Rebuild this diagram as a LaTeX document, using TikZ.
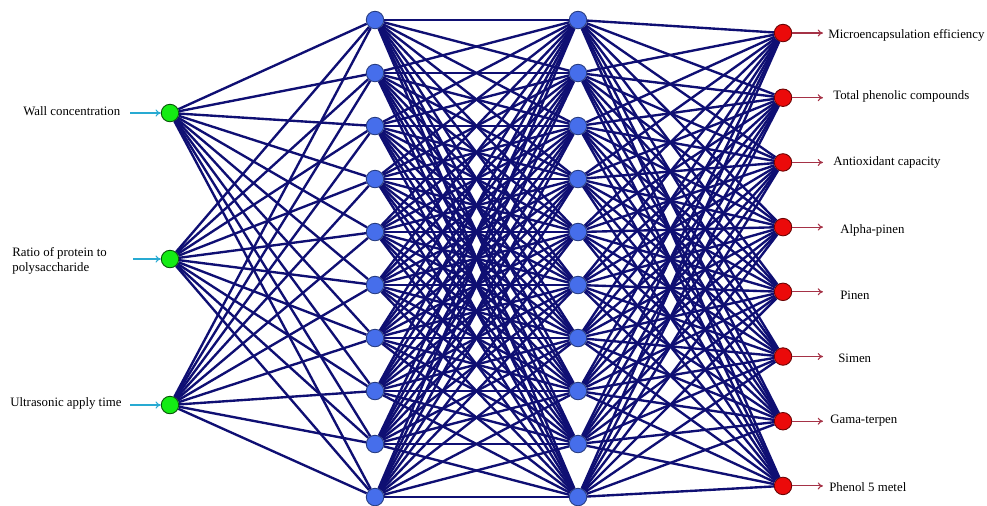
\documentclass[tikz,border=0pt]{standalone}
\usepackage{fontspec}
\setmainfont{Liberation Serif}
\usetikzlibrary{arrows.meta,backgrounds}

\definecolor{netblue}{RGB}{15,15,115}
\definecolor{hidblue}{RGB}{70,110,235}
\definecolor{ingreen}{RGB}{20,235,20}
\definecolor{outred}{RGB}{235,10,10}
\definecolor{incyan}{RGB}{40,170,210}
\definecolor{outarrow}{RGB}{165,50,70}

\begin{document}
\begin{tikzpicture}[
  x=0.02cm, y=-0.02cm,
  >={To[length=3pt,width=4pt]},
  neuron/.style={circle, line width=0.5pt, minimum size=0.35cm, inner sep=0pt},
  innode/.style={neuron, fill=ingreen, draw=ingreen!35!black},
  hidnode/.style={neuron, fill=hidblue, draw=hidblue!55!black},
  outnode/.style={neuron, fill=outred, draw=outred!45!black},
  link/.style={draw=netblue, line width=1.35pt},
  lbl/.style={font=\fontsize{7.3}{8.6}\selectfont, inner sep=0pt, anchor=west, align=left}
]
  \useasboundingbox (0,0) rectangle (987,505);

  % input layer
  \node[innode] (in1) at (170,113) {};
  \node[innode] (in2) at (170,259) {};
  \node[innode] (in3) at (170,405) {};

  % hidden layers
  \foreach \i in {1,...,10} {
    \node[hidnode] (a\i) at (375,{20+(\i-1)*53}) {};
    \node[hidnode] (b\i) at (578,{20+(\i-1)*53}) {};
  }

  % output layer
  \foreach \k in {1,...,8} {
    \node[outnode] (out\k) at (783,{33+(\k-1)*64.7}) {};
  }

  % connections
  \begin{scope}[on background layer]
    \foreach \i in {1,...,10} {
      \foreach \j in {1,2,3}
        \path[link] (in\j) -- (a\i);
      \foreach \j in {1,...,10}
        \path[link] (a\i) -- (b\j);
      \foreach \k in {1,...,8}
        \path[link] (b\i) -- (out\k);
    }
  \end{scope}

  % input labels
  \node[lbl] (lin1) at (23,111) {Wall concentration};
  \node[lbl] (lin2) at (12,261) {Ratio of protein to\\polysaccharide};
  \node[lbl] (lin3) at (10,403) {Ultrasonic apply time};
  \coordinate (sin1) at (130,113);
  \coordinate (sin2) at (133,259);
  \coordinate (sin3) at (130,405);
  \foreach \j in {1,2,3}
    \draw[->, incyan, line width=0.6pt] (sin\j) -- (in\j);

  % output labels
  \foreach \k in {1,...,8} {
    \coordinate (eout\k) at (823,{33+(\k-1)*64.7});
    \draw[->, outarrow, line width=0.6pt] (out\k) -- (eout\k);
  }
  \node[lbl] (lout1) at (828,35) {Microencapsulation efficiency};
  \node[lbl] (lout2) at (833,96) {Total phenolic compounds};
  \node[lbl] (lout3) at (833,162) {Antioxidant capacity};
  \node[lbl] (lout4) at (840,230) {Alpha-pinen};
  \node[lbl] (lout5) at (840,295) {Pinen};
  \node[lbl] (lout6) at (838,358) {Simen};
  \node[lbl] (lout7) at (830,421) {Gama-terpen};
  \node[lbl] (lout8) at (829,487) {Phenol 5 metel};
\end{tikzpicture}
\end{document}
